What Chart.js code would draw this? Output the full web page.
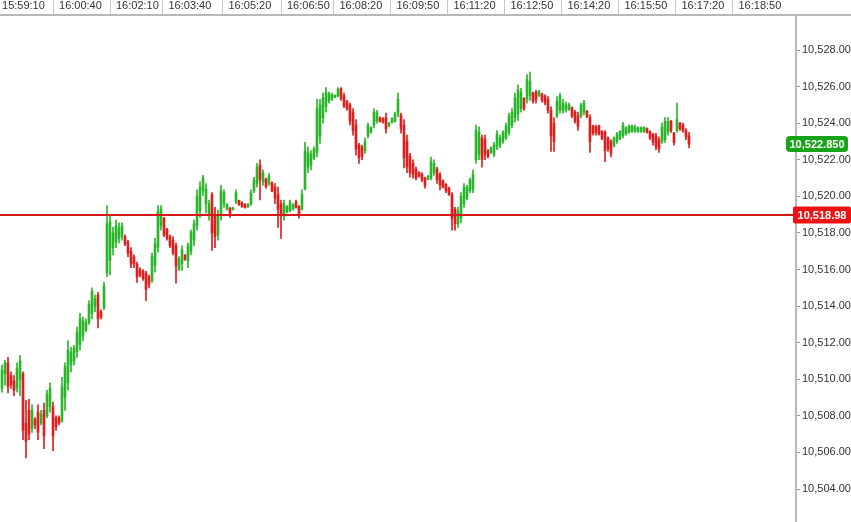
<!DOCTYPE html>
<html>
<head>
<meta charset="utf-8">
<script src="https://cdn.jsdelivr.net/npm/chart.js@4.4.1/dist/chart.umd.min.js"></script>
<style>
html, body { margin: 0; padding: 0; background: #fff; }
#wrap { width: 851px; height: 522px; }
</style>
</head>
<body>
<div id="wrap"><canvas id="ohlc-chart" width="851" height="522"></canvas></div>
<script>
// time labels on the top strip and the bar index where each one starts
const timeLabels = ['15:59:10', '16:00:40', '16:02:10', '16:03:40', '16:05:20', '16:06:50', '16:08:20',
    '16:09:50', '16:11:20', '16:12:50', '16:14:20', '16:15:50', '16:17:20', '16:18:50'];
const timeTickAt = [-2, 17, 36, 53.5, 73.5, 93, 110.5, 129.5, 148.5, 167.5, 186.5, 205.5, 224.5, 243.5];

const priceTicks = [10504, 10506, 10508, 10510, 10512, 10514, 10516, 10518, 10520, 10522, 10524, 10526, 10528];

const lastPrice = 10522.85;
const refLevel = 10518.98;

const opens = [
    10509.5, 10510.3, 10510.9, 10510.2, 10509.9, 10509.5, 10510.0, 10510.3, 10507.6, 10508.3,
    10507.3, 10507.8, 10508.2, 10507.6, 10508.3, 10508.0, 10508.5, 10508.5, 10507.9, 10507.9,
    10507.7, 10509.0, 10509.8, 10510.8, 10511.0, 10511.5, 10511.9, 10512.4, 10512.7, 10513.1,
    10513.6, 10514.0, 10514.6, 10513.7, 10513.9, 10515.8, 10516.5, 10517.2, 10517.5, 10517.7,
    10517.8, 10517.8, 10517.5, 10517.0, 10516.7, 10516.3, 10516.0, 10515.9, 10515.8, 10515.6,
    10515.4, 10516.2, 10517.2, 10518.4, 10518.8, 10518.2, 10517.8, 10517.6, 10517.3, 10516.0,
    10516.3, 10516.8, 10516.5, 10517.0, 10517.6, 10518.4, 10519.2, 10520.3, 10519.6, 10519.0,
    10520.1, 10519.0, 10517.9, 10519.0, 10519.6, 10519.3, 10519.35, 10519.28, 10519.7, 10519.78,
    10519.65, 10519.55, 10519.42, 10519.6, 10520.3, 10520.7, 10521.7, 10520.8, 10520.95, 10520.7,
    10520.75, 10520.5, 10520.1, 10519.6, 10518.9, 10519.15, 10519.2, 10519.3, 10519.7, 10519.45,
    10519.3, 10520.4, 10521.6, 10521.7, 10522.1, 10522.4, 10523.3, 10524.3, 10524.9, 10525.2,
    10525.3, 10525.42, 10525.5, 10525.9, 10525.5, 10525.2, 10525.0, 10524.6, 10523.9, 10522.8,
    10522.7, 10522.5, 10523.3, 10523.5, 10523.9, 10524.1, 10524.3, 10524.25, 10524.3, 10523.85,
    10524.05, 10524.1, 10524.5, 10524.45, 10523.9, 10523.0, 10522.2, 10521.8, 10521.5, 10521.3,
    10521.2, 10521.0, 10520.92, 10521.0, 10521.3, 10521.5, 10521.2, 10520.85, 10520.65, 10520.45,
    10520.1, 10519.3, 10518.5, 10518.8, 10519.6, 10519.9, 10520.3, 10520.4, 10522.0, 10522.3,
    10523.2, 10523.1, 10522.5, 10522.4, 10522.3, 10522.7, 10522.8, 10523.0, 10523.2, 10523.5,
    10523.9, 10524.3, 10524.5, 10524.8, 10525.35, 10525.3, 10525.5, 10525.65, 10525.7, 10525.5,
    10525.6, 10525.5, 10525.3, 10524.7, 10524.0, 10524.4, 10524.7, 10524.7, 10524.7, 10524.75,
    10524.85, 10524.6, 10524.4, 10524.4, 10524.6, 10524.65, 10524.3, 10523.85, 10523.8, 10523.85,
    10523.55, 10523.5, 10523.2, 10523.0, 10522.75, 10523.0, 10523.15, 10523.3, 10523.4, 10523.5,
    10523.55, 10523.55, 10523.55, 10523.55, 10523.55, 10523.7, 10523.55, 10523.4, 10523.3, 10523.1,
    10523.0, 10523.1, 10523.5, 10524.1, 10523.45, 10523.6, 10524.0, 10523.9, 10523.6, 10523.3
];
const highs = [
    10510.77, 10511.04, 10511.2, 10510.4, 10510.2, 10510.9, 10511.3, 10510.4, 10508.85, 10508.9,
    10508.6, 10507.9, 10508.6, 10508.3, 10508.7, 10509.4, 10509.8, 10508.75, 10508.0, 10508.0,
    10510.1, 10510.9, 10512.1, 10511.75, 10511.86, 10512.85, 10513.6, 10513.4, 10513.3, 10514.3,
    10515.0, 10514.6, 10514.75, 10513.8, 10515.3, 10519.5, 10519.0, 10518.3, 10518.7, 10518.55,
    10518.55, 10517.9, 10517.6, 10517.2, 10516.8, 10516.4, 10516.1, 10516.0, 10515.9, 10515.7,
    10516.9, 10517.7, 10519.5, 10519.5, 10518.85, 10518.25, 10517.9, 10517.8, 10517.45, 10516.7,
    10517.3, 10516.8, 10517.45, 10518.15, 10518.7, 10520.35, 10520.8, 10521.15, 10520.7, 10519.8,
    10520.2, 10519.4, 10519.25, 10520.6, 10520.35, 10519.6, 10519.4, 10519.4, 10520.35, 10519.8,
    10519.7, 10519.6, 10519.6, 10520.35, 10521.05, 10521.8, 10522.0, 10521.45, 10521.0, 10521.25,
    10520.8, 10520.7, 10520.5, 10519.8, 10519.8, 10519.5, 10519.8, 10519.6, 10519.8, 10519.5,
    10520.35, 10522.95, 10522.7, 10522.5, 10522.7, 10525.3, 10525.3, 10525.65, 10525.95, 10525.7,
    10525.65, 10525.55, 10525.95, 10525.95, 10525.65, 10525.25, 10525.1, 10524.8, 10524.2, 10522.9,
    10522.8, 10523.2, 10524.0, 10523.8, 10524.8, 10524.7, 10524.35, 10524.3, 10524.55, 10524.05,
    10524.3, 10524.6, 10525.65, 10524.55, 10524.2, 10523.35, 10522.35, 10522.0, 10521.6, 10521.35,
    10521.3, 10521.05, 10521.15, 10522.15, 10522.0, 10521.6, 10521.3, 10520.9, 10520.7, 10520.5,
    10520.2, 10519.4, 10519.4, 10520.2, 10520.7, 10520.6, 10521.0, 10521.45, 10523.9, 10523.8,
    10523.35, 10523.35, 10522.55, 10522.7, 10522.95, 10523.6, 10523.35, 10523.6, 10524.0, 10524.55,
    10524.8, 10525.65, 10526.1, 10525.9, 10525.4, 10526.65, 10526.8, 10525.7, 10525.8, 10525.8,
    10525.65, 10525.55, 10525.45, 10524.9, 10524.3, 10525.45, 10525.65, 10525.3, 10525.15, 10525.1,
    10524.9, 10524.7, 10524.6, 10525.1, 10525.25, 10524.7, 10524.45, 10523.9, 10523.9, 10523.9,
    10523.6, 10523.6, 10523.25, 10523.1, 10523.25, 10523.5, 10523.6, 10524.05, 10523.8, 10523.9,
    10523.9, 10523.9, 10523.8, 10523.8, 10523.8, 10523.75, 10523.6, 10523.45, 10523.45, 10523.25,
    10524.0, 10524.3, 10524.3, 10524.15, 10523.5, 10525.1, 10524.05, 10524.0, 10523.7, 10523.5
];
const lows = [
    10509.29, 10509.67, 10509.25, 10509.5, 10509.1, 10509.3, 10509.1, 10506.7, 10505.7, 10506.7,
    10507.1, 10507.3, 10506.7, 10507.5, 10506.2, 10507.9, 10508.2, 10506.1, 10507.2, 10507.5,
    10507.65, 10508.3, 10509.4, 10510.4, 10510.77, 10511.2, 10511.6, 10512.1, 10512.6, 10513.0,
    10513.3, 10513.7, 10512.8, 10513.3, 10513.8, 10515.6, 10515.7, 10516.8, 10517.2, 10517.45,
    10517.6, 10517.3, 10516.7, 10516.1, 10516.1, 10515.3, 10515.6, 10515.4, 10514.3, 10515.0,
    10515.3, 10515.85, 10516.95, 10518.15, 10517.8, 10517.6, 10517.2, 10516.8, 10515.25, 10515.95,
    10515.95, 10516.5, 10516.1, 10516.8, 10517.3, 10518.15, 10518.85, 10520.05, 10519.1, 10518.7,
    10517.05, 10517.2, 10517.6, 10518.7, 10519.4, 10519.25, 10518.85, 10519.25, 10519.6, 10519.5,
    10519.4, 10519.35, 10519.4, 10519.5, 10520.2, 10520.5, 10519.8, 10520.6, 10520.45, 10520.6,
    10520.25, 10519.6, 10518.3, 10517.7, 10518.7, 10519.1, 10519.15, 10519.25, 10519.35, 10518.8,
    10519.25, 10520.35, 10521.3, 10521.45, 10522.0, 10522.15, 10522.9, 10524.0, 10524.6, 10525.1,
    10525.25, 10525.4, 10525.45, 10525.25, 10524.85, 10524.7, 10523.9, 10523.35, 10522.25, 10521.8,
    10522.0, 10522.35, 10523.2, 10523.45, 10523.75, 10524.0, 10524.05, 10524.0, 10523.45, 10523.8,
    10524.0, 10524.05, 10524.35, 10523.45, 10521.55, 10521.3, 10521.05, 10521.0, 10520.9, 10521.05,
    10520.8, 10520.45, 10520.9, 10520.9, 10521.15, 10520.7, 10520.35, 10520.45, 10520.2, 10520.05,
    10518.15, 10518.15, 10518.3, 10518.55, 10519.4, 10519.8, 10520.2, 10520.2, 10521.8, 10522.0,
    10521.6, 10522.0, 10522.1, 10522.35, 10522.15, 10522.55, 10522.65, 10522.9, 10523.1, 10523.35,
    10523.75, 10524.05, 10524.15, 10524.6, 10524.7, 10525.1, 10525.25, 10525.1, 10525.1, 10525.45,
    10525.15, 10525.0, 10524.55, 10522.45, 10522.45, 10524.3, 10524.55, 10524.55, 10524.6, 10524.7,
    10524.3, 10524.0, 10523.6, 10524.3, 10524.45, 10524.3, 10522.4, 10523.35, 10523.35, 10523.35,
    10523.1, 10521.9, 10522.45, 10522.15, 10522.7, 10522.9, 10523.1, 10523.2, 10523.35, 10523.45,
    10523.5, 10523.5, 10523.5, 10523.5, 10523.5, 10523.45, 10523.1, 10522.8, 10522.55, 10522.4,
    10522.9, 10522.95, 10523.35, 10523.5, 10522.8, 10523.5, 10523.6, 10523.5, 10523.1, 10522.65
];
const closes = [
    10510.5, 10510.9, 10509.6, 10509.7, 10509.4, 10510.6, 10511.0, 10507.2, 10506.6, 10507.0,
    10508.3, 10507.5, 10507.1, 10508.1, 10506.9, 10509.2, 10509.5, 10506.9, 10507.4, 10507.6,
    10509.6, 10510.7, 10511.6, 10511.5, 10511.7, 10512.6, 10513.3, 10513.2, 10513.1, 10514.1,
    10514.8, 10514.4, 10513.3, 10513.4, 10515.1, 10518.5, 10518.6, 10518.0, 10518.4, 10518.3,
    10518.4, 10517.4, 10516.9, 10516.3, 10516.3, 10515.6, 10515.7, 10515.5, 10514.9, 10515.2,
    10516.7, 10517.4, 10519.2, 10519.3, 10517.9, 10517.7, 10517.3, 10516.9, 10516.2, 10516.6,
    10517.1, 10516.55, 10517.3, 10518.0, 10518.5, 10520.0, 10520.5, 10521.0, 10520.4, 10519.6,
    10518.0, 10517.8, 10519.0, 10520.3, 10520.2, 10519.55, 10518.95, 10519.38, 10520.2, 10519.55,
    10519.45, 10519.4, 10519.58, 10520.2, 10520.9, 10521.6, 10520.9, 10521.3, 10520.55, 10521.1,
    10520.3, 10519.9, 10519.3, 10519.0, 10519.6, 10519.45, 10519.7, 10519.55, 10519.4, 10519.0,
    10520.1, 10522.5, 10522.4, 10522.3, 10522.6, 10524.8, 10525.0, 10525.4, 10525.7, 10525.6,
    10525.55, 10525.52, 10525.85, 10525.35, 10524.95, 10524.8, 10524.1, 10523.6, 10522.6, 10522.1,
    10522.2, 10523.0, 10523.9, 10523.75, 10524.6, 10524.55, 10524.1, 10524.05, 10523.7, 10524.0,
    10524.25, 10524.5, 10525.3, 10523.7, 10522.1, 10521.6, 10521.3, 10521.2, 10521.0, 10521.1,
    10520.9, 10520.6, 10521.1, 10521.9, 10521.8, 10520.9, 10520.6, 10520.5, 10520.3, 10520.1,
    10518.8, 10518.5, 10519.2, 10520.0, 10520.5, 10520.5, 10520.9, 10521.2, 10523.6, 10523.5,
    10522.0, 10522.3, 10522.2, 10522.65, 10522.8, 10523.4, 10523.2, 10523.5, 10523.85, 10524.4,
    10524.6, 10525.4, 10525.8, 10525.7, 10524.8, 10526.4, 10526.3, 10525.2, 10525.3, 10525.75,
    10525.25, 10525.1, 10524.7, 10523.3, 10523.0, 10525.2, 10525.5, 10525.1, 10525.0, 10525.0,
    10524.4, 10524.1, 10523.8, 10525.0, 10525.1, 10524.35, 10523.0, 10523.45, 10523.5, 10523.4,
    10523.15, 10522.5, 10522.6, 10522.35, 10523.2, 10523.4, 10523.55, 10523.9, 10523.75, 10523.85,
    10523.85, 10523.8, 10523.75, 10523.75, 10523.78, 10523.5, 10523.2, 10522.95, 10522.7, 10522.6,
    10523.8, 10524.1, 10524.1, 10523.6, 10522.95, 10524.2, 10523.7, 10523.6, 10523.25, 10522.85
];

const upColor = '#2cb52c';
const downColor = '#e01e1e';
const barColors = closes.map((c, i) => c >= opens[i] ? upColor : downColor);

const axisFont = { family: '"Liberation Sans", Arial, sans-serif', size: 11 };
const fmt = (v, d) => v.toLocaleString('en-US', { minimumFractionDigits: d, maximumFractionDigits: d });

function priceTag(ctx, x, y, w, h, r, fill, text) {
    ctx.fillStyle = fill;
    ctx.beginPath();
    ctx.moveTo(x + r, y);
    ctx.arcTo(x + w, y, x + w, y + h, r);
    ctx.arcTo(x + w, y + h, x, y + h, r);
    ctx.arcTo(x, y + h, x, y, r);
    ctx.arcTo(x, y, x + w, y, r);
    ctx.closePath();
    ctx.fill();
    ctx.fillStyle = '#fff';
    ctx.font = 'bold 11px "Liberation Sans", Arial, sans-serif';
    ctx.textAlign = 'center';
    ctx.textBaseline = 'middle';
    ctx.fillText(text, x + w / 2, y + h / 2 + 0.5);
}

const levels = {
    id: 'levels',
    afterDatasetsDraw(chart) {
        const { ctx, chartArea, scales } = chart;
        const y = Math.round(scales.y.getPixelForValue(refLevel));
        ctx.save();
        ctx.strokeStyle = '#d51818';
        ctx.lineWidth = 2;
        ctx.beginPath();
        ctx.moveTo(chartArea.left, y);
        ctx.lineTo(chartArea.right, y);
        ctx.stroke();
        ctx.restore();
    },
    afterDraw(chart) {
        const { ctx, chartArea, scales, width } = chart;
        ctx.save();
        // top rule runs on over the price axis
        ctx.strokeStyle = '#b8b8b8';
        ctx.lineWidth = 2;
        ctx.beginPath();
        ctx.moveTo(chartArea.right, chartArea.top);
        ctx.lineTo(width, chartArea.top);
        ctx.stroke();

        const yRef = Math.round(scales.y.getPixelForValue(refLevel));
        priceTag(ctx, chartArea.right - 3, yRef - 8.5, width - chartArea.right + 3, 17, 2, '#ee1212', fmt(refLevel, 2));

        const yLast = Math.round(scales.y.getPixelForValue(lastPrice));
        priceTag(ctx, chartArea.right - 10, yLast - 8, 62, 16, 4, '#17a317', fmt(lastPrice, 3));
        ctx.restore();
    }
};

new Chart(document.getElementById('ohlc-chart'), {
    type: 'bar',
    data: {
        datasets: [{
            label: 'wick',
            data: highs.map((h, i) => ({ x: i, y: [lows[i], h] })),
            backgroundColor: barColors,
            barThickness: 1,
            grouped: false
        }, {
            label: 'body',
            data: opens.map((o, i) => ({ x: i, y: [o, closes[i]] })),
            backgroundColor: barColors,
            barThickness: 2,
            minBarLength: 1,
            grouped: false
        }]
    },
    options: {
        responsive: false,
        animation: false,
        devicePixelRatio: 1,
        events: [],
        layout: { padding: 0 },
        plugins: { legend: { display: false }, tooltip: { enabled: false } },
        scales: {
            x: {
                type: 'linear',
                position: 'top',
                offset: false,
                min: -0.67,
                max: 264.67,
                afterBuildTicks: s => { s.ticks = timeTickAt.map(v => ({ value: v })); },
                afterFit: s => { s.height = 15; s.paddingLeft = 0; s.paddingRight = 0; },
                grid: { drawOnChartArea: false, offset: false, tickLength: 15, color: '#c8c8c8', lineWidth: 1 },
                border: { color: '#b8b8b8', width: 2 },
                ticks: {
                    autoSkip: false,
                    maxRotation: 0,
                    align: 'start',
                    labelOffset: 6,
                    padding: -12.5,
                    color: '#333',
                    font: axisFont,
                    callback: (v, i) => timeLabels[i]
                }
            },
            y: {
                type: 'linear',
                position: 'right',
                min: 10502.196,
                max: 10529.914,
                afterBuildTicks: s => { s.ticks = priceTicks.map(v => ({ value: v })); },
                afterFit: s => { s.width = 55; s.paddingTop = 0; s.paddingBottom = 0; },
                grid: { drawOnChartArea: false, tickLength: 4, color: '#999' },
                border: { color: '#b8b8b8', width: 2 },
                ticks: {
                    padding: 2,
                    color: '#333',
                    font: axisFont,
                    callback: v => fmt(v, 2)
                }
            }
        }
    },
    plugins: [levels]
});
</script>
</body>
</html>
